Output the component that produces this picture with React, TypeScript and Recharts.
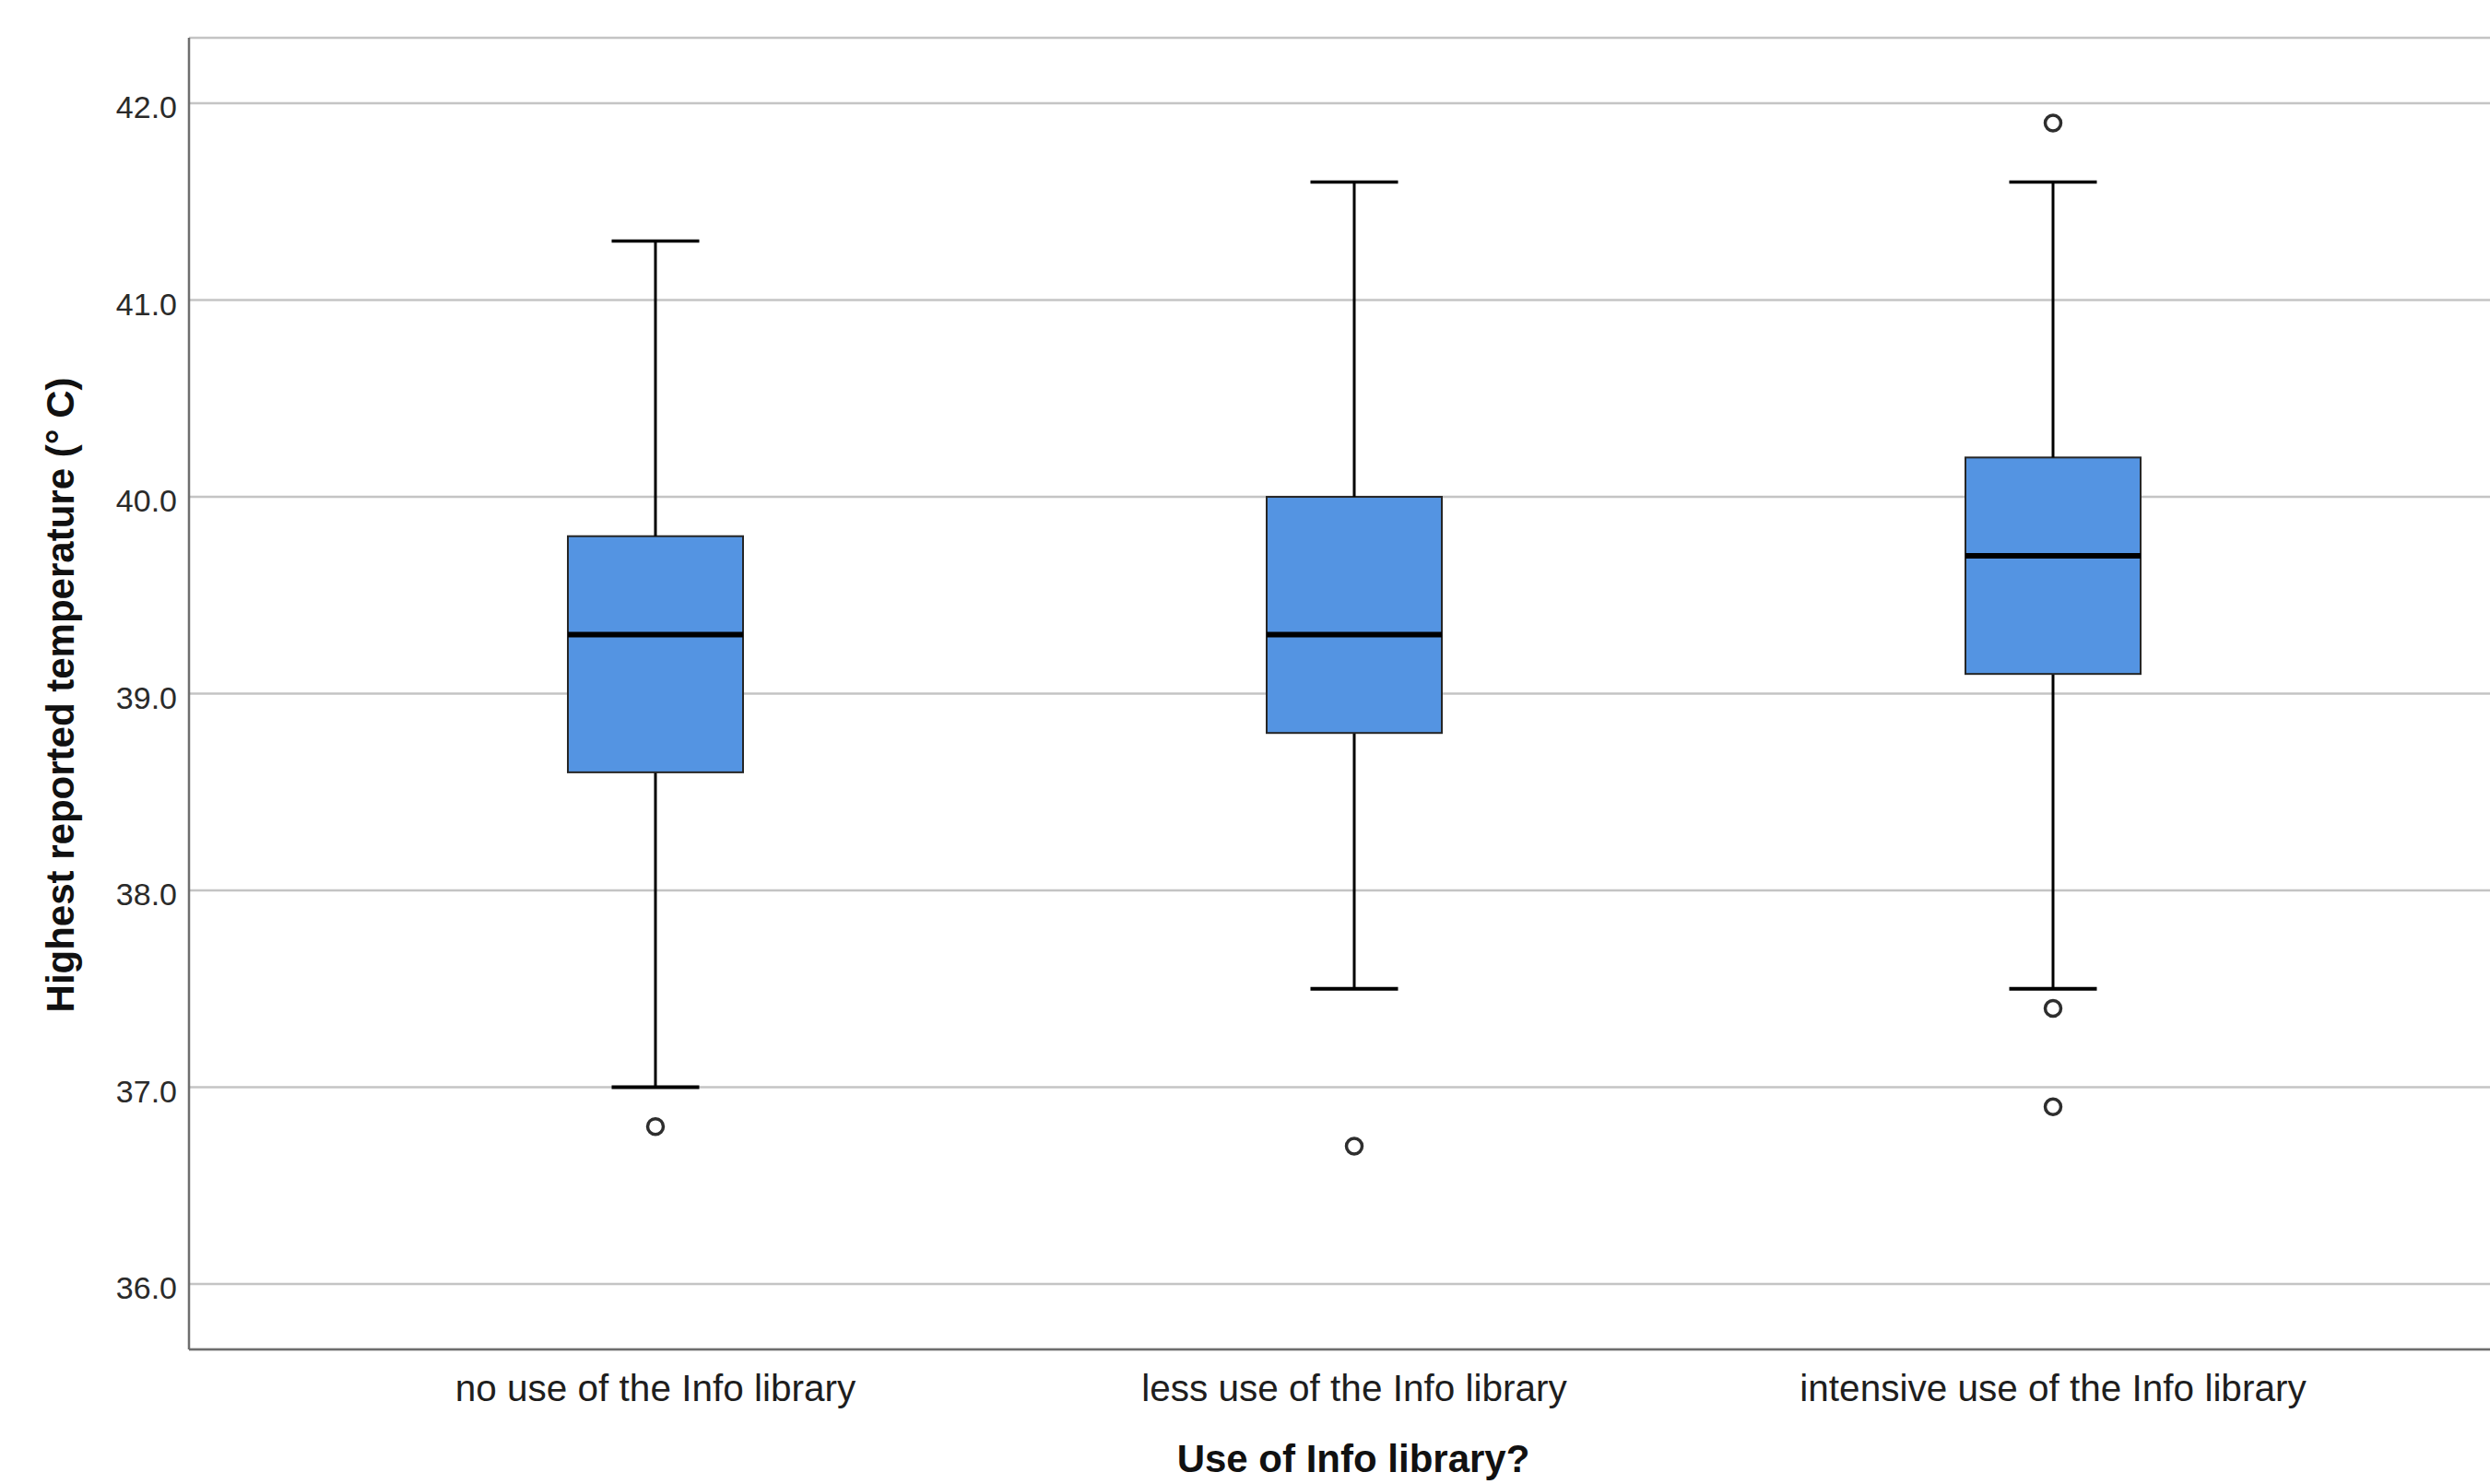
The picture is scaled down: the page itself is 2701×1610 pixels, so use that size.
import React from 'react';
import { ComposedChart, Bar, Scatter, XAxis, YAxis, CartesianGrid } from 'recharts';

const categories = [
  'no use of the Info library',
  'less use of the Info library',
  'intensive use of the Info library',
];
const whiskerLow = [37.0, 37.5, 37.5];
const q1 = [38.6, 38.8, 39.1];
const median = [39.3, 39.3, 39.7];
const q3 = [39.8, 40.0, 40.2];
const whiskerHigh = [41.3, 41.6, 41.6];
const outliers1: (number | null)[] = [36.8, 36.7, 41.9];
const outliers2: (number | null)[] = [null, null, 37.4];
const outliers3: (number | null)[] = [null, null, 36.9];
const yTicks = [36, 37, 38, 39, 40, 41, 42];
const yDomain = [35.667, 42.333];

const data = categories.map((cat, i) => ({
  cat,
  base: whiskerLow[i],
  lowWhisker: q1[i] - whiskerLow[i],
  boxLow: median[i] - q1[i],
  boxHigh: q3[i] - median[i],
  highWhisker: whiskerHigh[i] - q3[i],
  o1: outliers1[i],
  o2: outliers2[i],
  o3: outliers3[i],
}));

const BOX_FILL = '#5494e2';

const LowWhisker = (p: any) => {
  const { x, y, width, height } = p;
  const cx = x + width / 2;
  const cap = width * 0.5;
  return (
    <g>
      <line x1={cx} x2={cx} y1={y} y2={y + height} stroke="#000" strokeWidth={3} />
      <line x1={cx - cap / 2} x2={cx + cap / 2} y1={y + height} y2={y + height} stroke="#000" strokeWidth={4} />
    </g>
  );
};

const HighWhisker = (p: any) => {
  const { x, y, width, height } = p;
  const cx = x + width / 2;
  const cap = width * 0.5;
  return (
    <g>
      <line x1={cx} x2={cx} y1={y} y2={y + height} stroke="#000" strokeWidth={3} />
      <line x1={cx - cap / 2} x2={cx + cap / 2} y1={y} y2={y} stroke="#000" strokeWidth={3.5} />
    </g>
  );
};

const BoxLow = (p: any) => {
  const { x, y, width, height } = p;
  return <rect x={x} y={y} width={width} height={height} fill={BOX_FILL} stroke="#262626" strokeWidth={2} />;
};

const BoxHigh = (p: any) => {
  const { x, y, width, height } = p;
  return (
    <g>
      <rect x={x} y={y} width={width} height={height} fill={BOX_FILL} stroke="#262626" strokeWidth={2} />
      <line x1={x} x2={x + width} y1={y + height} y2={y + height} stroke="#000" strokeWidth={6} />
    </g>
  );
};

const outlierShape = (key: string) => (p: any) => {
  if (!p || !p.payload || p.payload[key] == null || !isFinite(p.cy)) return <g />;
  return <circle cx={p.cx} cy={p.cy} r={8.5} fill="#ffffff" stroke="#2e2e2e" strokeWidth={3.5} />;
};

const XTitle = () => (
  <text x={1468} y={1597} textAnchor="middle" fontSize={42} fontWeight="bold" fill="#111">
    Use of Info library?
  </text>
);

const YTitle = () => (
  <text x={80} y={754} transform="rotate(-90, 80, 754)" textAnchor="middle" fontSize={42} fontWeight="bold" fill="#111">
    Highest reported temperature (° C)
  </text>
);

export default function App() {
  return (
    <div style={{ position: 'absolute', left: 0, top: 0, width: 2701, height: 1610, background: '#fff', fontFamily: '"Liberation Sans", Arial, sans-serif' }}>
      <ComposedChart
        width={2701}
        height={1610}
        data={data}
        margin={{ top: 41, right: 0, bottom: 0, left: 0 }}
        barCategoryGap={0}
      >
        <CartesianGrid horizontal vertical={false} stroke="#c4c4c4" strokeWidth={2.5} />
        <XAxis
          dataKey="cat"
          type="category"
          height={146}
          padding={{ left: 127, right: 95 }}
          interval={0}
          tickLine={false}
          tickSize={0}
          tickMargin={27}
          axisLine={{ stroke: '#6e6e6e', strokeWidth: 2.5 }}
          tick={{ fill: '#1e1e1e', fontSize: 40.5 }}
          label={<XTitle />}
        />
        <YAxis
          type="number"
          domain={yDomain}
          allowDataOverflow
          ticks={yTicks}
          interval={0}
          width={205}
          tickFormatter={(v: number) => v.toFixed(1)}
          tickLine={false}
          tickSize={0}
          tickMargin={13}
          axisLine={{ stroke: '#6e6e6e', strokeWidth: 2.5 }}
          tick={{ fill: '#2a2a2a', fontSize: 34, dy: 4 }}
          label={<YTitle />}
        />
        <Bar dataKey="base" stackId="box" barSize={190} fill="transparent" isAnimationActive={false} />
        <Bar dataKey="lowWhisker" stackId="box" barSize={190} shape={<LowWhisker />} isAnimationActive={false} />
        <Bar dataKey="boxLow" stackId="box" barSize={190} shape={<BoxLow />} isAnimationActive={false} />
        <Bar dataKey="boxHigh" stackId="box" barSize={190} shape={<BoxHigh />} isAnimationActive={false} />
        <Bar dataKey="highWhisker" stackId="box" barSize={190} shape={<HighWhisker />} isAnimationActive={false} />
        <Scatter dataKey="o1" shape={outlierShape('o1')} isAnimationActive={false} />
        <Scatter dataKey="o2" shape={outlierShape('o2')} isAnimationActive={false} />
        <Scatter dataKey="o3" shape={outlierShape('o3')} isAnimationActive={false} />
      </ComposedChart>
    </div>
  );
}
